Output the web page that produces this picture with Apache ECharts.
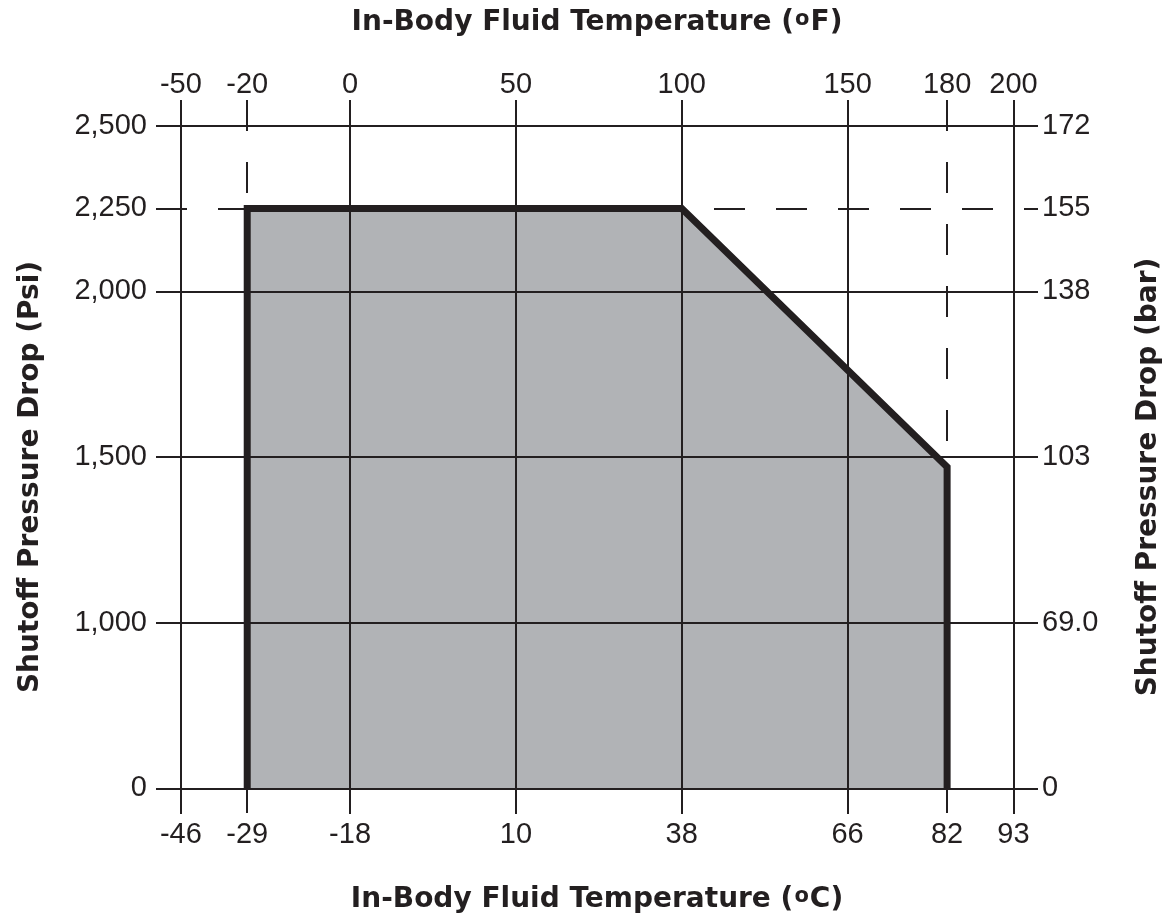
<!DOCTYPE html>
<html>
<head>
<meta charset="utf-8">
<script src="https://cdn.jsdelivr.net/npm/echarts@6/dist/echarts.min.js"></script>
<style>
html,body{margin:0;padding:0;background:#fff;}
#chart{width:1172px;height:920px;}
</style>
</head>
<body>
<div id="chart"></div>
<script>
// ---- data ----
const fTicks = [-50, -20, 0, 50, 100, 150, 180, 200];
const fTickLabels = ['-50', '-20', '0', '50', '100', '150', '180', '200'];
const cTickLabels = ['-46', '-29', '-18', '10', '38', '66', '82', '93'];
const psiTicks = [0, 1000, 1500, 2000, 2250, 2500];
const psiTickLabels = ['0', '1,000', '1,500', '2,000', '2,250', '2,500'];
const barTickLabels = ['0', '69.0', '103', '138', '155', '172'];
const limitTempF = [-20, -20, 100, 180, 180];
const limitPsi = [0, 2250, 2250, 1470, 0];
const solidGridF = [-50, 0, 50, 100, 150, 200];
const dashedGridF = [-20, 180];
const solidGridPsi = [0, 1000, 1500, 2000, 2500];
const dashedGridPsi = [2250];

// ---- layout / style ----
const X_MIN = -57.5, X_MAX = 207.4;
const Y_MIN = -77, Y_MAX = 2577;
const INK = '#231f20';
const FILL = '#b1b3b6';
const LABEL_FONT = 'Liberation Sans';
const NAME_FONT = 'DejaVu Sans';
const NAME_SIZE = 28;

const limitData = limitTempF.map((t, i) => [t, limitPsi[i]]);

const xBreaks = [
  { start: -50, end: -20, gap: 20 },
  { start: -20, end: 0, gap: 31 }
];
const yBreaks = [{ start: 0, end: 1000, gap: 500 }];
const hiddenBreak = {
  show: false,
  itemStyle: { opacity: 0, borderWidth: 0, color: 'rgba(0,0,0,0)', borderColor: 'rgba(0,0,0,0)' },
  zigzagAmplitude: 0
};

function lookup(ticks, labels) {
  return function (v) {
    let best = 0, d = Infinity;
    for (let i = 0; i < ticks.length; i++) {
      const dd = Math.abs(ticks[i] - v);
      if (dd < d) { d = dd; best = i; }
    }
    return d < 1e-6 ? labels[best] : '';
  };
}

const nameRich = {
  t: { fontFamily: NAME_FONT, fontWeight: 'bold', fontSize: NAME_SIZE, color: INK },
  s: { fontFamily: NAME_FONT, fontWeight: 'bold', fontSize: 21, color: INK, verticalAlign: 'top', padding: [0, 1, 0, 1] }
};

function xAxisCfg(position, labels, name, gap, margin) {
  return {
    type: 'value', position: position, min: X_MIN, max: X_MAX,
    breaks: xBreaks, breakArea: hiddenBreak,
    axisLine: { show: false }, axisTick: { show: false }, splitLine: { show: false },
    axisLabel: {
      customValues: fTicks, formatter: lookup(fTicks, labels),
      fontFamily: LABEL_FONT, fontSize: 29, color: INK, margin: margin
    },
    name: name, nameLocation: 'middle', nameGap: gap,
    nameTextStyle: { rich: nameRich }
  };
}

function yAxisCfg(position, labels, name, gap) {
  return {
    type: 'value', position: position, min: Y_MIN, max: Y_MAX,
    breaks: yBreaks, breakArea: hiddenBreak,
    axisLine: { show: false }, axisTick: { show: false }, splitLine: { show: false },
    axisLabel: {
      customValues: psiTicks, formatter: lookup(psiTicks, labels),
      fontFamily: LABEL_FONT, fontSize: 29, color: INK, margin: position === 'left' ? 9 : 4
    },
    name: name, nameLocation: 'middle', nameGap: gap,
    nameTextStyle: { fontFamily: NAME_FONT, fontWeight: 'bold', fontSize: NAME_SIZE, color: INK, padding: [0, 40, 0, 0] }
  };
}

const gridLines = [];
solidGridF.forEach(v => gridLines.push([{ coord: [v, Y_MAX], lineStyle: { type: 'solid' } }, { coord: [v, Y_MIN] }]));
dashedGridF.forEach(v => gridLines.push([{ coord: [v, Y_MAX], lineStyle: { type: [31, 31] } }, { coord: [v, Y_MIN] }]));
solidGridPsi.forEach(v => gridLines.push([{ coord: [X_MIN, v], lineStyle: { type: 'solid' } }, { coord: [X_MAX, v] }]));
dashedGridPsi.forEach(v => gridLines.push([{ coord: [X_MIN, v], lineStyle: { type: [31, 31] } }, { coord: [X_MAX, v] }]));

const option = {
  animation: false,
  backgroundColor: '#ffffff',
  grid: { left: 156, right: 134, top: 100, bottom: 106, containLabel: false, outerBoundsMode: 'none' },
  xAxis: [
    xAxisCfg('top', fTickLabels, '{t|In-Body Fluid Temperature (}{s|o}{t|F)}', 63, 1),
    xAxisCfg('bottom', cTickLabels, '{t|In-Body Fluid Temperature (}{s|o}{t|C)}', 72, 6)
  ],
  yAxis: [
    yAxisCfg('left', psiTickLabels, 'Shutoff Pressure Drop (Psi)', 111),
    yAxisCfg('right', barTickLabels, 'Shutoff Pressure Drop (bar)', 97)
  ],
  series: [
    {
      name: 'area', type: 'line', xAxisIndex: 0, yAxisIndex: 0,
      data: limitData, symbol: 'none', silent: true, z: 1,
      lineStyle: { width: 0, opacity: 0 },
      areaStyle: { color: FILL, opacity: 1 }
    },
    {
      name: 'grid', type: 'line', xAxisIndex: 0, yAxisIndex: 0,
      data: [], symbol: 'none', silent: true, z: 3,
      markLine: {
        silent: true, symbol: ['none', 'none'], animation: false,
        label: { show: false },
        emphasis: { disabled: true },
        lineStyle: { color: INK, width: 2 },
        data: gridLines
      }
    },
    {
      name: 'limit', type: 'line', xAxisIndex: 0, yAxisIndex: 0,
      data: limitData, symbol: 'none', silent: true, z: 5,
      lineStyle: { color: INK, width: 7, join: 'miter', cap: 'butt' }
    }
  ]
};

const chart = echarts.init(document.getElementById('chart'), null, { renderer: 'canvas' });
chart.setOption(option);
</script>
</body>
</html>
